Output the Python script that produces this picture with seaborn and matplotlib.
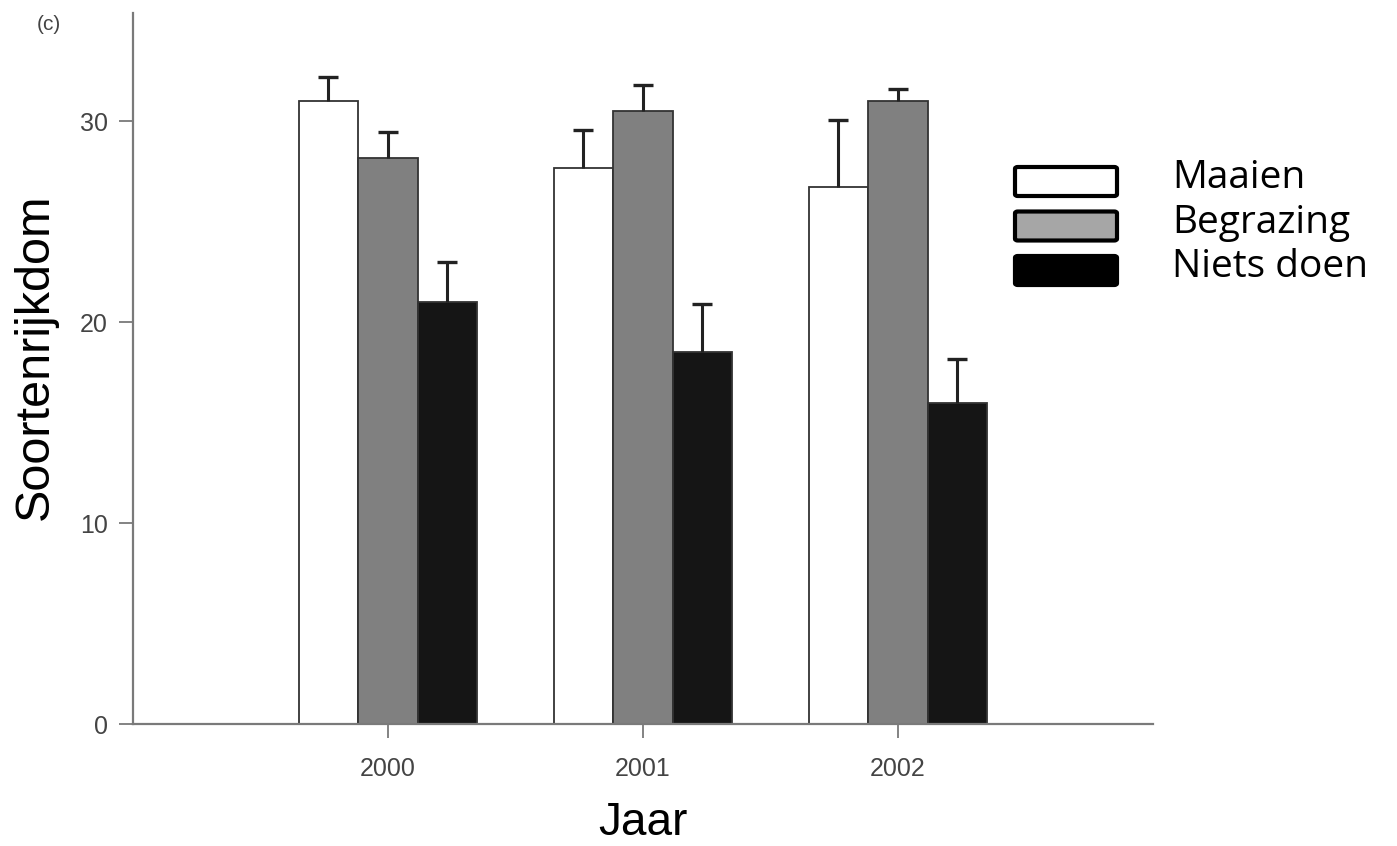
import matplotlib
matplotlib.use("Agg")
import matplotlib.pyplot as plt
from matplotlib.patches import FancyBboxPatch
import numpy as np
import pandas as pd
import seaborn as sns

# Species richness per year and management type (mean and upper error)
years = ["2000", "2001", "2002"]
treatments = ["Maaien", "Begrazing", "Niets doen"]
maaien = [31.0, 27.7, 26.75]
begrazing = [28.2, 30.5, 31.0]
niets_doen = [21.0, 18.5, 16.0]
maaien_err = [1.2, 1.9, 3.3]
begrazing_err = [1.3, 1.3, 0.6]
niets_doen_err = [2.0, 2.4, 2.15]
y_ticks = [0, 10, 20, 30]

bar_colors = ["#ffffff", "#808080", "#151515"]
legend_colors = ["#ffffff", "#a6a6a6", "#000000"]

means = [maaien, begrazing, niets_doen]
errs = [maaien_err, begrazing_err, niets_doen_err]
df = pd.DataFrame({
    "Jaar": [y for _ in treatments for y in years],
    "Beheer": [t for t in treatments for _ in years],
    "Soortenrijkdom": [v for series in means for v in series],
})

sns.set_style("ticks")
plt.rcParams["font.family"] = ["Liberation Sans", "DejaVu Sans"]

W, H = 1397, 846
fig = plt.figure(figsize=(W / 100, H / 100), dpi=100)
ax = fig.add_axes([0.0952, 0.1442, 0.7301, 0.8404])

sns.barplot(data=df, x="Jaar", y="Soortenrijkdom", hue="Beheer",
            order=years, hue_order=treatments, palette=bar_colors,
            width=0.7, errorbar=None, edgecolor="#333333", linewidth=1.3,
            legend=False, ax=ax)

# upper-only error bars on each bar
for container, err in zip(ax.containers, errs):
    xs = [p.get_x() + p.get_width() / 2 for p in container]
    hs = [p.get_height() for p in container]
    _, caps, _ = ax.errorbar(xs, hs, yerr=[np.zeros(len(err)), err],
                             fmt="none", ecolor="#222222", elinewidth=2.2,
                             capsize=7.5, capthick=2.4, zorder=1)
    caps[0].set_visible(False)

ax.set_xlim(-1.0, 3.0)
ax.set_ylim(0, 35.4)
ax.set_yticks(y_ticks)

spine_color = "#7a7a7a"
for side in ["top", "right"]:
    ax.spines[side].set_visible(False)
for side in ["left", "bottom"]:
    ax.spines[side].set_color(spine_color)
    ax.spines[side].set_linewidth(1.6)
ax.tick_params(axis="both", length=10, width=1.3, color=spine_color,
               labelsize=18, labelcolor="#444444")
ax.tick_params(axis="y", pad=8)
ax.tick_params(axis="x", pad=14)

ax.set_xlabel("Jaar", fontsize=33, color="black")
ax.set_ylabel("Soortenrijkdom", fontsize=35, color="black")
ax.xaxis.set_label_coords(0.5, -0.108)
ax.yaxis.set_label_coords(-0.074, 0.516)

fig.text(37 / W, 1 - 24 / H, "(c)", fontsize=15, color="#444444",
         ha="left", va="center")

# legend: framed swatches with labels to the right
legend_font = ["Open Sans", "DejaVu Sans"]
pitch = 44.5
for i, (label, color) in enumerate(zip(treatments, legend_colors)):
    top = 165 + pitch * i
    box = FancyBboxPatch((1015 / W, 1 - (top + 31) / H), 102 / W, 29 / H,
                         boxstyle="round,pad=0,rounding_size=0.002",
                         transform=fig.transFigure, facecolor=color,
                         edgecolor="black", linewidth=3.0, joinstyle="round")
    fig.patches.append(box)
    fig.text(1172 / W, 1 - (188 + pitch * i) / H, label, fontsize=28,
             family=legend_font, color="black", ha="left", va="baseline")

fig.savefig("out.png", dpi=100, facecolor="white")
